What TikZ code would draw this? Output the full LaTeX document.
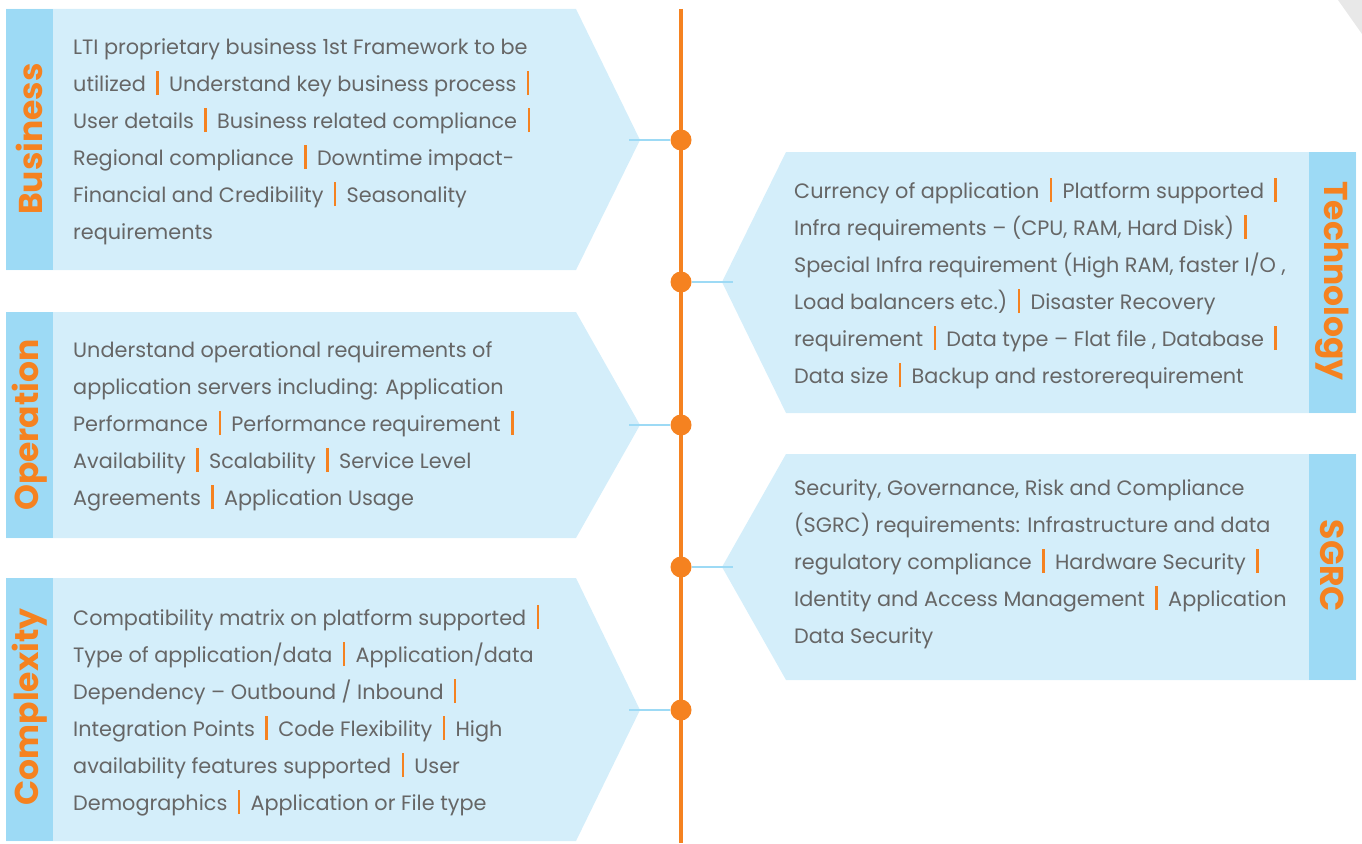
\documentclass[tikz,border=0pt]{standalone}
\usepackage{fontspec}
\setmainfont{Poppins}
\definecolor{panel}{HTML}{D4EEFA}
\definecolor{tab}{HTML}{9DDAF5}
\definecolor{accent}{HTML}{F58220}
\definecolor{txt}{HTML}{666666}
\newcommand{\vsep}{\hspace{0.5em}{\color{accent}\rule[-0.2em]{2.4pt}{1.15em}}\hspace{0.5em}}
\tikzset{
  body/.style={anchor=base west, align=left, inner sep=0pt, text=txt, font=\fontsize{20.8}{37}\selectfont},
  tablabel/.style={text=accent, font=\bfseries\fontsize{33}{36}\selectfont, inner sep=0pt},
  link/.style={draw=tab, line width=2.5pt},
  dot/.style={circle, fill=accent, inner sep=0pt, minimum size=21pt},
}
\begin{document}
\begin{tikzpicture}[x=1pt,y=-1pt]
	\useasboundingbox (0,0) rectangle (1362,843);
	\fill[black!9] (1338,0) -- (1362,0) -- (1362,34) -- cycle;
	% left panels
	\fill[panel] (6,9) -- (576,9) -- (640,140) -- (576,270) -- (6,270) -- cycle;
	\fill[panel] (6,312) -- (576,312) -- (640,425) -- (576,538) -- (6,538) -- cycle;
	\fill[panel] (6,578) -- (576,578) -- (640,710) -- (576,841) -- (6,841) -- cycle;
	\fill[tab] (6,9) rectangle (53,270);
	\fill[tab] (6,312) rectangle (53,538);
	\fill[tab] (6,578) rectangle (53,841);
	% right panels
	\fill[panel] (1356,152) -- (786,152) -- (722,282) -- (786,413) -- (1356,413) -- cycle;
	\fill[panel] (1356,454) -- (786,454) -- (722,567) -- (786,680) -- (1356,680) -- cycle;
	\fill[tab] (1309,152) rectangle (1356,413);
	\fill[tab] (1309,454) rectangle (1356,680);
	% timeline
	\draw[accent, line width=4pt] (681,9) -- (681,843);
	\node[dot] (dBus) at (681,140) {};
	\node[dot] (dTech) at (681,282) {};
	\node[dot] (dOp) at (681,425) {};
	\node[dot] (dSgrc) at (681,567) {};
	\node[dot] (dComp) at (681,710) {};
	\coordinate (busTip) at (629,140);
	\coordinate (techTip) at (733,282);
	\coordinate (opTip) at (629,425);
	\coordinate (sgrcTip) at (733,567);
	\coordinate (compTip) at (629,710);
	\draw[link] (busTip) -- (dBus);
	\draw[link] (opTip) -- (dOp);
	\draw[link] (compTip) -- (dComp);
	\draw[link] (dTech) -- (techTip);
	\draw[link] (dSgrc) -- (sgrcTip);
	% tab labels
	\node[tablabel, rotate=90] (busLbl) at (29.5,139) {Business};
	\node[tablabel, rotate=90] (opLbl) at (29.5,425) {Operation};
	\node[tablabel, rotate=90] (compLbl) at (29.5,707) {Complexity};
	\node[tablabel, rotate=-90] (techLbl) at (1332.5,281) {Technology};
	\node[tablabel, rotate=-90] (sgrcLbl) at (1332.5,566) {SGRC};
	% texts (base = last line)
	\node[body] (busText) at (73,239) {LTI proprietary business 1st Framework to be\\
		utilized\vsep Understand key business process\vsep\\
		User details\vsep Business related compliance\vsep\\
		Regional compliance\vsep Downtime impact-\\
		Financial and Credibility\vsep Seasonality\\
		requirements};
	\node[body] (opText) at (73,505) {Understand operational requirements of\\
		application servers including: Application\\
		Performance\vsep Performance requirement\vsep\\
		Availability\vsep Scalability\vsep Service Level\\
		Agreements\vsep Application Usage};
	\node[body] (compText) at (73,810) {Compatibility matrix on platform supported\vsep\\
		Type of application/data\vsep Application/data\\
		Dependency – Outbound / Inbound\vsep\\
		Integration Points\vsep Code Flexibility\vsep High\\
		availability features supported\vsep User\\
		Demographics\vsep Application or File type};
	\node[body] (techText) at (794,383) {Currency of application\vsep Platform supported\vsep\\
		Infra requirements – (CPU, RAM, Hard Disk)\vsep\\
		Special Infra requirement (High RAM, faster I/O ,\\
		Load balancers etc.)\vsep Disaster Recovery\\
		requirement\vsep Data type – Flat file , Database\vsep\\
		Data size\vsep Backup and restorerequirement};
	\node[body] (sgrcText) at (794,643) {Security, Governance, Risk and Compliance\\
		(SGRC) requirements: Infrastructure and data\\
		regulatory compliance\vsep Hardware Security\vsep\\
		Identity and Access Management\vsep Application\\
		Data Security};
\end{tikzpicture}
\end{document}
